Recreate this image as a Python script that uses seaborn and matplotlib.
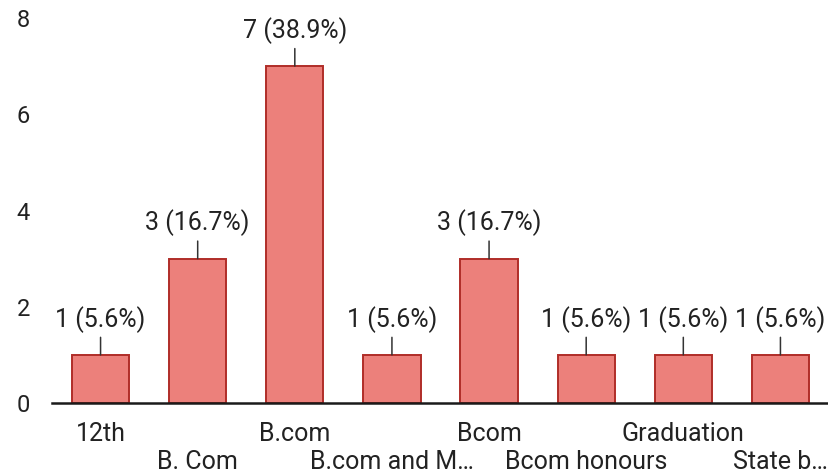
import matplotlib
matplotlib.use("Agg")
import matplotlib.pyplot as plt
import seaborn as sns
import pandas as pd

categories = ["12th", "B. Com", "B.com", "B.com and M…", "Bcom", "Bcom honours", "Graduation", "State b…"]
counts = [1, 3, 7, 1, 3, 1, 1, 1]
value_labels = ["1 (5.6%)", "3 (16.7%)", "7 (38.9%)", "1 (5.6%)", "3 (16.7%)", "1 (5.6%)", "1 (5.6%)", "1 (5.6%)"]
y_ticks = [0, 2, 4, 6, 8]

sns.set_theme(style="white")
plt.rcParams["font.family"] = ["Roboto", "DejaVu Sans"]

df = pd.DataFrame({"category": categories, "count": counts})

fig = plt.figure(figsize=(8.29, 4.75), dpi=100)
ax = fig.add_axes([52/829, 72/475, 777/829, 385/475])

sns.barplot(data=df, x="category", y="count", ax=ax, color="#EC807B",
            saturation=1, width=0.59, edgecolor="#B02D28", linewidth=1.4)

ax.set_ylim(0, 8)
ax.set_xlim(-0.5, len(categories) - 0.5)
ax.set_yticks(y_ticks)
ax.set_yticklabels([str(t) for t in y_ticks], fontsize=17, color="#222222")
ax.tick_params(axis="y", length=0, pad=16)
ax.tick_params(axis="x", length=0)
ax.set_xticks(range(len(categories)))
ax.set_xticklabels(categories, fontsize=18, color="#222222")
for i, t in enumerate(ax.xaxis.get_major_ticks()):
    t.set_pad(14 if i % 2 == 0 else 34)

for s in ["top", "right", "left"]:
    ax.spines[s].set_visible(False)
ax.spines["bottom"].set_color("#1a1a1a")
ax.spines["bottom"].set_linewidth(1.8)
ax.set_xlabel("")
ax.set_ylabel("")

for i, (v, lab) in enumerate(zip(counts, value_labels)):
    ax.annotate(lab, xy=(i, v), xytext=(0, 16), textcoords="offset points",
                ha="center", va="bottom", fontsize=18, color="#222222",
                arrowprops=dict(arrowstyle="-", color="#333333", lw=1.1,
                                shrinkA=1, shrinkB=0),
                annotation_clip=False)

fig.savefig("out.png", dpi=100)
